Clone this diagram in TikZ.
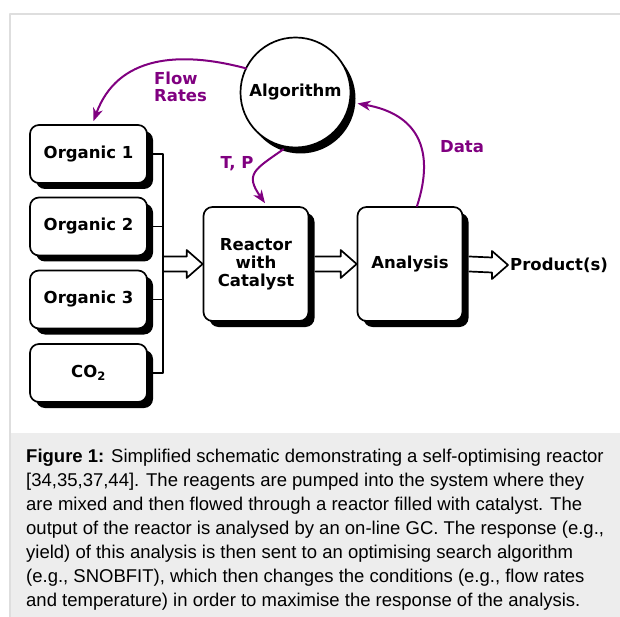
\documentclass[tikz,border=0pt]{standalone}
\usepackage{fontspec}
\newfontfamily\diagfont{DejaVu Sans}
\newfontfamily\capfont{Liberation Sans}
\usetikzlibrary{shadows,calc,arrows.meta}
\definecolor{loopviolet}{HTML}{800080}
\definecolor{framegrey}{HTML}{DEDEDE}
\definecolor{captiongrey}{HTML}{EDEDED}

% freccia cava orizzontale: da #1 (coda aperta) a #2 (punta)
\newcommand{\fatarrow}[2]{%
  \draw[hollow] ($(#1)+(0,7.5)$) -- ($(#2)+(-16,7.5)$) -- ($(#2)+(-16,14)$)
    -- (#2) -- ($(#2)+(-16,-14)$) -- ($(#2)+(-16,-7.5)$) -- ($(#1)+(0,-7.5)$);}

\begin{document}
\begin{tikzpicture}[x=1pt,y=1pt,line join=round,line cap=round,
  font=\diagfont\bfseries\fontsize{16.5}{18}\selectfont,
  unit/.style={draw,line width=1.7pt,rounded corners=9pt,fill=white,
    drop shadow={shadow xshift=6pt,shadow yshift=-6pt,opacity=1,fill=black}},
  feed/.style={unit,minimum width=117pt,minimum height=58pt},
  stage/.style={unit,minimum width=105pt,minimum height=114pt,align=center},
  pipe/.style={line width=1.7pt},
  hollow/.style={draw,line width=1.7pt,fill=white},
  loopline/.style={draw=loopviolet,line width=2pt,
    -{Stealth[length=13pt,width=10pt,inset=4pt]}},
  looplabel/.style={text=loopviolet,align=left,inner sep=0pt,
    font=\diagfont\bfseries\fontsize{16.5}{17}\selectfont}]

  \useasboundingbox (0,0) rectangle (620,-617);

  % cornice e fondo della didascalia
  \fill[captiongrey] (10,-433) rectangle (620,-617);
  \draw[framegrey,line width=1.5pt] (10,-617) -- (10,-14) -- (620,-14);

  % ---- alimentazioni ------------------------------------------------------
  \node[feed] (org1) at (88.5,-154)   {Organic 1};
  \node[feed] (org2) at (88.5,-226.5) {Organic 2};
  \node[feed] (org3) at (88.5,-299.5) {Organic 3};
  \node[feed] (co2)  at (88.5,-373)   {CO\textsubscript{2}};

  % ---- reattore, analisi, algoritmo ---------------------------------------
  \node[stage] (reactor)  at (256,-264) {Reactor\\with\\Catalyst};
  \node[stage] (analysis) at (410,-264) {Analysis};
  \node[anchor=west,inner sep=2pt] (product) at (508,-265) {Product(s)};
  \node[draw,circle,line width=1.7pt,fill=white,minimum size=110pt,inner sep=0pt,
    drop shadow={shadow xshift=5pt,shadow yshift=-6pt,opacity=1,fill=black}]
    (algo) at (295.5,-92.5) {Algorithm};

  % ---- collettore e frecce cave --------------------------------------------
  \coordinate (busTop) at ($(org1.east)+(15,0)$);
  \coordinate (mixIn)  at (busTop |- reactor.west);
  \coordinate (rOut)   at ($(reactor.east)+(6,0)$);
  \coordinate (aOut)   at ($(analysis.east)+(6,0)$);
  \fatarrow{mixIn}{reactor.west}
  \fatarrow{rOut}{analysis.west}
  \fatarrow{aOut}{product.west}

  \draw[pipe] (org1.east) -- (busTop) |- (co2.east);
  \draw[pipe] (org2.east) -- (org2.east -| busTop);
  \draw[pipe] (org3.east) -- (org3.east -| busTop);

  % ---- anello di retroazione -------------------------------------------------
  \draw[loopline] ($(algo.center)+(154:55)$) to[out=165,in=70,looseness=1.1]
        ($(org1.north)+(5,3)$);
  \draw[loopline] ($(algo.center)+(-102:58)$) to[out=215,in=125,looseness=1.6]
        ($(reactor.north)+(9,3)$);
  \draw[loopline] ($(analysis.north)+(7,0)$) to[out=72,in=-10,looseness=1.3]
        ($(algo.center)+(-10:63)$);

  \node[looplabel,anchor=west] (flowlbl) at (154,-87) {Flow\\Rates};
  \node[looplabel] (tplbl)   at (237,-164) {T, P};
  \node[looplabel] (datalbl) at (462,-147) {Data};

  % ---- didascalia ---------------------------------------------------------
  \node[anchor=north west,inner sep=0pt,align=left,
    font=\capfont\fontsize{18.5}{24}\selectfont] (caption) at (26,-448.5)
    {\textbf{Figure 1:} Simplified schematic demonstrating a self-optimising reactor\\
     \relax[34,35,37,44]. The reagents are pumped into the system where they\\
     are mixed and then flowed through a reactor filled with catalyst. The\\
     output of the reactor is analysed by an on-line GC. The response (e.g.,\\
     yield) of this analysis is then sent to an optimising search algorithm\\
     (e.g., SNOBFIT), which then changes the conditions (e.g., flow rates\\
     and temperature) in order to maximise the response of the analysis.};

\end{tikzpicture}
\end{document}
